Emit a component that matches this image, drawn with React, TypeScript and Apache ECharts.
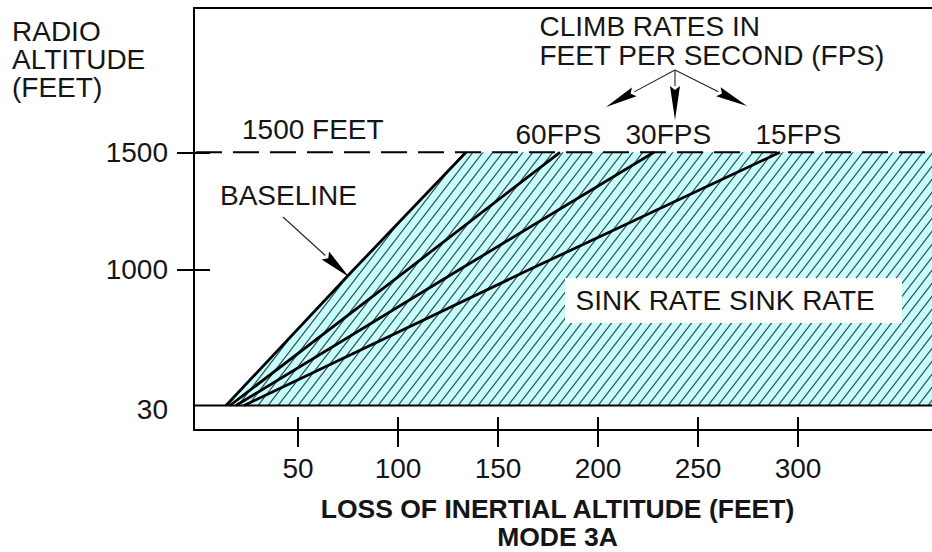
import React, { useEffect, useRef } from 'react';
import * as echarts from 'echarts';

// ---------- data ----------
const altitudes = [30, 1000, 1500]; // radio altitude (feet) at which each curve is read
const yTickLabels = ['30', '1000', '1500'];
const xTicks = [50, 100, 150, 200, 250, 300];
const xTickLabels = ['50', '100', '150', '200', '250', '300'];
const baselineLoss = [14, 78, 134]; // loss of inertial altitude (feet)
const fps60Loss = [16, 105, 181];
const fps30Loss = [19, 131, 228];
const fps15Loss = [23, 166, 291];
const lineSeriesNames = ['BASELINE', '60FPS', '30FPS', '15FPS'];

// ---------- axis scale (the chart's y scale is piecewise: 30-1000 compressed) ----------
const X_MIN = -2;
const X_MAX = 367;
const Y_MAX_UNITS = 422;
const ALT_ANCHOR_UNITS = [24.5, 160.7, 277.7];

function toV(alt: number): number {
  const a = altitudes;
  const u = ALT_ANCHOR_UNITS;
  if (alt <= a[1]) return u[0] + ((alt - a[0]) * (u[1] - u[0])) / (a[1] - a[0]);
  return u[1] + ((alt - a[1]) * (u[2] - u[1])) / (a[2] - a[1]);
}

const FONT = '"Liberation Sans", Arial, Helvetica, sans-serif';
const TXT = '#151515';

function makeArrow(x1: number, y1: number, x2: number, y2: number, headLen: number, halfW: number) {
  const dx = x2 - x1;
  const dy = y2 - y1;
  const len = Math.sqrt(dx * dx + dy * dy);
  const ux = dx / len;
  const uy = dy / len;
  const bx = x2 - ux * headLen;
  const by = y2 - uy * headLen;
  const nx = -uy;
  const ny = ux;
  return [
    {
      type: 'line',
      z: 100,
      silent: true,
      shape: { x1, y1, x2: bx, y2: by },
      style: { stroke: '#222', lineWidth: 1.1 },
    },
    {
      type: 'polygon',
      z: 100,
      silent: true,
      shape: {
        points: [
          [x2, y2],
          [bx + nx * halfW, by + ny * halfW],
          [bx + ux * 4, by + uy * 4],
          [bx - nx * halfW, by - ny * halfW],
        ],
      },
      style: { fill: '#000' },
    },
  ];
}

function textEl(text: string, x: number, y: number, opts: any = {}) {
  return {
    type: 'text',
    z: 101,
    silent: true,
    style: {
      text,
      x,
      y,
      fill: TXT,
      fontFamily: FONT,
      fontSize: opts.fontSize || 28,
      fontWeight: opts.fontWeight || 'normal',
      lineHeight: opts.lineHeight || 28,
      textAlign: opts.align || 'left',
      align: opts.align || 'left',
      textVerticalAlign: 'middle',
      verticalAlign: 'middle',
    },
  };
}

export default function App() {
  const ref = useRef<HTMLDivElement>(null);

  useEffect(() => {
    document.body.style.margin = '0';
    document.body.style.overflow = 'hidden';
    if (!ref.current) return;
    const chart = echarts.init(ref.current, null, { renderer: 'svg' });

    // hatch tile: light cyan with thin dark "/" lines
    const S = 2;
    const TW = 10;
    const TH = 13;
    const tile = document.createElement('canvas');
    tile.width = TW * S;
    tile.height = TH * S;
    const ctx = tile.getContext('2d')!;
    ctx.fillStyle = '#c6ffff';
    ctx.fillRect(0, 0, TW * S, TH * S);
    ctx.strokeStyle = '#3c4646';
    ctx.lineWidth = 1.15 * S;
    for (let k = -1; k <= 1; k++) {
      ctx.beginPath();
      ctx.moveTo((k * TW - TW) * S, 2 * TH * S);
      ctx.lineTo((k * TW + 2 * TW) * S, -TH * S);
      ctx.stroke();
    }
    const hatch: any = { image: tile, repeat: 'repeat', imageWidth: TW, imageHeight: TH };

    const toPts = (xs: number[]) => xs.map((x, i) => [x, toV(altitudes[i])]);
    const region = [
      ...toPts(baselineLoss),
      [X_MAX, toV(altitudes[2])],
      [X_MAX, toV(altitudes[0])],
    ];

    const curveStyle = { color: '#000', width: 2.8 };
    const curves = [baselineLoss, fps60Loss, fps30Loss, fps15Loss].map((xs, i) => ({
      type: 'line',
      name: lineSeriesNames[i],
      data: toPts(xs),
      symbol: 'none',
      silent: true,
      z: 5,
      lineStyle: curveStyle,
    }));

    const yLabelFor = (v: number) => {
      let best = 0;
      for (let i = 0; i < altitudes.length; i++) {
        if (Math.abs(toV(altitudes[i]) - v) < Math.abs(toV(altitudes[best]) - v)) best = i;
      }
      return best === 0 ? `{lo|${yTickLabels[best]}}` : yTickLabels[best];
    };

    const baseAxisX = { type: 'value', min: X_MIN, max: X_MAX, splitLine: { show: false } };
    const baseAxisY = { type: 'value', min: 0, max: Y_MAX_UNITS, splitLine: { show: false } };
    const tickLine = { color: '#000', width: 2 };

    const option: any = {
      animation: false,
      grid: {
        left: 194,
        right: 0,
        top: 8,
        bottom: 122,
        containLabel: false,
        outerBoundsMode: 'none',
      },
      xAxis: [
        {
          ...baseAxisX,
          position: 'bottom',
          axisLine: { show: true, onZero: false, lineStyle: { color: '#000', width: 2 } },
          axisTick: { show: true, inside: false, length: 17, customValues: xTicks, lineStyle: tickLine },
          axisLabel: {
            show: true,
            customValues: xTicks,
            formatter: (v: number) => xTickLabels[xTicks.indexOf(Math.round(v))] ?? '',
            margin: 24,
            fontSize: 28,
            fontFamily: FONT,
            color: TXT,
          },
          name: 'LOSS OF INERTIAL ALTITUDE (FEET)\nMODE 3A',
          nameLocation: 'middle',
          nameGap: 64.5,
          nameTextStyle: {
            fontFamily: FONT,
            fontWeight: 'bold',
            fontSize: 26.5,
            lineHeight: 28,
            color: TXT,
            padding: [0, 11, 0, 0],
          },
        },
        {
          ...baseAxisX,
          position: 'bottom',
          axisLine: { show: false, onZero: false },
          axisTick: { show: true, inside: true, length: 13, customValues: xTicks, lineStyle: tickLine },
          axisLabel: { show: false },
        },
        {
          ...baseAxisX,
          position: 'top',
          axisLine: { show: true, onZero: false, lineStyle: { color: '#000', width: 2 } },
          axisTick: { show: false },
          axisLabel: { show: false },
        },
      ],
      yAxis: [
        {
          ...baseAxisY,
          position: 'left',
          axisLine: { show: true, onZero: false, lineStyle: { color: '#000', width: 2 } },
          axisTick: {
            show: true,
            inside: false,
            length: 17,
            customValues: [toV(altitudes[1]), toV(altitudes[2])],
            lineStyle: tickLine,
          },
          axisLabel: {
            show: true,
            customValues: altitudes.map(toV),
            formatter: (v: number) => yLabelFor(v),
            margin: 26,
            fontSize: 28,
            fontFamily: FONT,
            color: TXT,
            rich: {
              lo: { fontSize: 28, fontFamily: FONT, color: TXT, padding: [7, 0, 0, 0] },
            },
          },
        },
        {
          ...baseAxisY,
          position: 'left',
          axisLine: { show: false, onZero: false },
          axisTick: {
            show: true,
            inside: true,
            length: 16,
            customValues: [toV(altitudes[1]), toV(altitudes[2])],
            lineStyle: tickLine,
          },
          axisLabel: { show: false },
        },
      ],
      series: [
        {
          type: 'custom',
          name: 'SINK RATE',
          silent: true,
          clip: true,
          z: 1,
          data: [0],
          renderItem: (_params: any, api: any) => ({
            type: 'polygon',
            shape: { points: region.map((p) => api.coord(p)) },
            style: { fill: hatch, stroke: null },
          }),
        },
        {
          type: 'line',
          name: '30 FEET',
          data: [
            [X_MIN, toV(altitudes[0])],
            [X_MAX, toV(altitudes[0])],
          ],
          symbol: 'none',
          silent: true,
          z: 4,
          lineStyle: { color: '#000', width: 2.2 },
        },
        {
          type: 'line',
          name: '1500 FEET',
          data: [
            [X_MIN, toV(altitudes[2])],
            [X_MAX, toV(altitudes[2])],
          ],
          symbol: 'none',
          silent: true,
          z: 4,
          lineStyle: { color: '#000', width: 2, type: [26, 11], dashOffset: -2 },
        },
        ...curves,
      ],
      graphic: [
        textEl('RADIO\nALTITUDE\n(FEET)', 12, 59, { lineHeight: 28 }),
        textEl('1500 FEET', 242, 129.5),
        textEl('BASELINE', 220, 195.5),
        ...makeArrow(283, 217, 349, 277, 32, 5.5),
        textEl('CLIMB RATES IN\nFEET PER SECOND (FPS)', 539.5, 41, { lineHeight: 29 }),
        ...makeArrow(675, 70, 606, 107, 32, 5),
        ...makeArrow(675, 70, 675, 120, 34, 5),
        ...makeArrow(675, 70, 747, 106, 32, 5),
        textEl('60FPS', 515.5, 134),
        textEl('30FPS', 625.5, 134),
        textEl('15FPS', 755.5, 134),
        {
          type: 'rect',
          z: 100,
          silent: true,
          shape: { x: 565, y: 278, width: 337, height: 45 },
          style: { fill: '#ffffff' },
        },
        textEl('SINK RATE SINK RATE', 575.5, 300.5),
      ],
    };

    chart.setOption(option);
    return () => chart.dispose();
  }, []);

  return (
    <div
      ref={ref}
      style={{ position: 'absolute', left: 0, top: 0, width: 932, height: 552, background: '#fff' }}
    />
  );
}
